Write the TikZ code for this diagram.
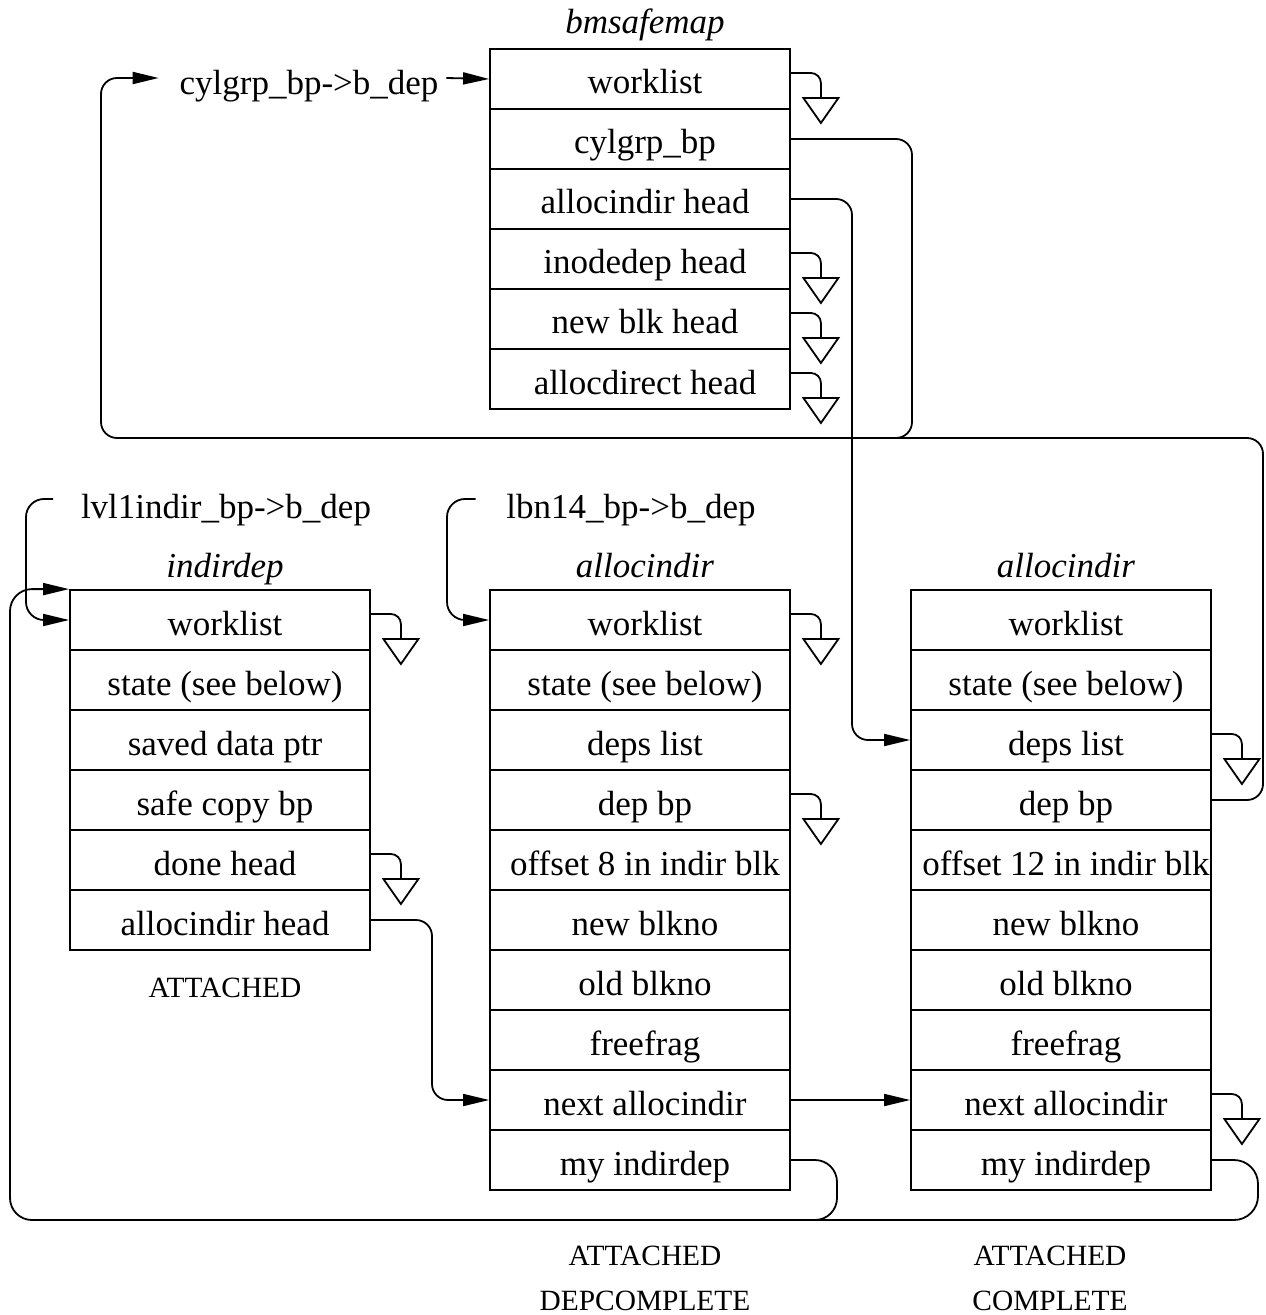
\documentclass[tikz,border=0pt]{standalone}
\usepackage{fontspec}
\setmainfont{Liberation Serif}
\usetikzlibrary{arrows.meta,calc}
\newcommand\gndsym[1]{%
  \draw[rounded corners=5pt] ($(#1.east)+(0,6)$) -| ($(#1.east)+(30,-19)$);
  \draw[fill=white] ($(#1.east)+(12.5,-19)$) -- ++(35,0) -- ++(-17.5,-25) -- cycle;}
\begin{document}
\begin{tikzpicture}[x=0.5pt,y=0.5pt,line width=0.9pt,
  cell/.style={draw, rectangle, minimum width=150pt, minimum height=30pt, inner sep=0pt,
    text height=15pt, text depth=0pt, font=\fontsize{17.5}{21}\selectfont,
    execute at begin node={\hspace*{5pt}}},
  ttl/.style={font=\fontsize{17.5}{21}\selectfont\itshape, inner sep=0pt, anchor=base},
  lbl/.style={font=\fontsize{17.5}{21}\selectfont, inner sep=0pt, anchor=base},
  stt/.style={font=\fontsize{14.7}{18}\selectfont, inner sep=0pt, anchor=base},
  arr/.style={-{Triangle[length=13pt,width=6pt]}}]
\useasboundingbox (0,0) rectangle (1265,-1315);

% bmsafemap
\node[ttl] (tbm) at (645,-34) {bmsafemap};
\foreach \t [count=\k] in {worklist, cylgrp\_bp, allocindir head, inodedep head, new blk head, allocdirect head}
  \node[cell] (bm\k) at (640,{-79-60*(\k-1)}) {\t};

% indirdep
\node[ttl] (tin) at (225,-577) {indirdep};
\foreach \t [count=\k] in {worklist, {state (see below)}, saved data ptr, safe copy bp, done head, allocindir head}
  \node[cell] (i\k) at (220,{-620-60*(\k-1)}) {\t};
\node[stt] (sin) at (225,-997) {ATTACHED};

% allocindir middle
\node[ttl] (tm) at (645,-577) {allocindir};
\foreach \t [count=\k] in {worklist, {state (see below)}, deps list, dep bp, offset 8 in indir blk, new blkno, old blkno, freefrag, next allocindir, my indirdep}
  \node[cell] (m\k) at (640,{-620-60*(\k-1)}) {\t};
\node[stt] (sm1) at (645,-1265) {ATTACHED};
\node[stt] (sm2) at (645,-1310) {DEPCOMPLETE};

% allocindir right
\node[ttl] (tr) at (1066,-577) {allocindir};
\foreach \t [count=\k] in {worklist, {state (see below)}, deps list, dep bp, offset 12 in indir blk, new blkno, old blkno, freefrag, next allocindir, my indirdep}
  \node[cell] (r\k) at (1061,{-620-60*(\k-1)}) {\t};
\node[stt] (sr1) at (1050,-1265) {ATTACHED};
\node[stt] (sr2) at (1050,-1310) {COMPLETE};

% labels
\node[lbl] (lcyl) at (309,-95) {cylgrp\_bp->b\_dep};
\node[lbl] (llvl) at (226,-518) {lvl1indir\_bp->b\_dep};
\node[lbl] (llbn) at (631,-518) {lbn14\_bp->b\_dep};
\coordinate (cylin) at ($(lcyl.base west)+(-20,17)$);
\coordinate (cylout) at ($(lcyl.base east)+(7,17)$);
\coordinate (lvlstart) at ($(llvl.base west)+(-27,19)$);
\coordinate (lbnstart) at ($(llbn.base west)+(-30,19)$);

% ground symbols
\gndsym{bm1}\gndsym{bm4}\gndsym{bm5}\gndsym{bm6}
\gndsym{i1}\gndsym{i5}
\gndsym{m1}\gndsym{m4}
\gndsym{r3}\gndsym{r9}

% connectors
\draw[arr] (cylout) -- (bm1.west);
\draw[arr, rounded corners=8pt] (bm2.east) -| (912,-438) -- (101,-438) |- (cylin);
\draw[rounded corners=8pt] (r4.east) -| (1263,-438) -- (870,-438);
\draw[arr, rounded corners=8pt] (bm3.east) -| (852,-740) -- (r3.west);
\draw[arr, rounded corners=9pt] (lvlstart) -| (26,-620) -- (i1.west);
\draw[arr, rounded corners=9pt] (lbnstart) -| (447,-620) -- (m1.west);
\draw[arr, rounded corners=8pt] (i6.east) -| (432,-1100) -- (m9.west);
\draw[arr] (m9.east) -- (r9.west);
\draw[arr, rounded corners=11pt] (m10.east) -| (837,-1220) -- (10,-1220) |- (i1.north west);
\draw[rounded corners=12pt] (r10.east) -| (1258,-1220) -- (790,-1220);
\end{tikzpicture}
\end{document}
